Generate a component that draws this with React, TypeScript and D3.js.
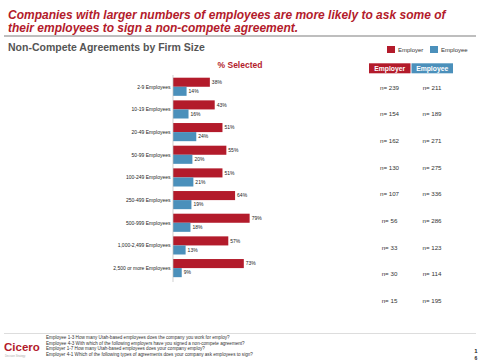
import * as d3 from "d3"

const categories = [
  "2-9 Employees",
  "10-19 Employees",
  "20-49 Employees",
  "50-99 Employees",
  "100-249 Employees",
  "250-499 Employees",
  "500-999 Employees",
  "1,000-2,499 Employees",
  "2,500 or more Employees",
]
const employerPct = [38, 43, 51, 55, 51, 64, 79, 57, 73]
const employeePct = [14, 16, 24, 20, 21, 19, 18, 13, 9]
const employerN = [239, 154, 162, 130, 107, 56, 33, 30, 15]
const employeeN = [211, 189, 271, 275, 336, 286, 123, 114, 195]
const footnotes = [
  "Employee 1-3 How many Utah-based employees does the company you work for employ?",
  "Employee 4-3 With which of the following employers have you signed a non-compete agreement?",
  "Employer 1-7 How many Utah-based employees does your company employ?",
  "Employer 4-1 Which of the following types of agreements does your company ask employees to sign?",
]

const RED = "#b31b2b"
const BLUE = "#4b90bb"
const FONT = "'Liberation Sans', Arial, sans-serif"

export default function App() {
  const width = 480
  const height = 360

  // bar chart scales
  const x = d3.scaleLinear().domain([0, 100]).range([173, 270])
  const y = d3.scaleBand().domain(categories).range([77.7, 281.7]).padding(0)
  const barH = y.step() * 0.4

  // n= table rows (not aligned with bars, as in the original slide)
  const ny = d3.scalePoint().domain(categories).range([89.5, 303])
  const colX = { employer: 389.5, employee: 432 }

  return (
    <svg width={width} height={height} style={{ position: "fixed", left: 0, top: 0, background: "#fff" }} fontFamily={FONT}>
      {/* title */}
      <text x={8} y={18.5} fill={RED} fontSize={12} fontWeight="bold" fontStyle="italic">
        Companies with larger numbers of employees are more likely to ask some of
      </text>
      <text x={8} y={32} fill={RED} fontSize={12} fontWeight="bold" fontStyle="italic">
        their employees to sign a non-compete agreement.
      </text>
      <line x1={4} x2={476} y1={36} y2={36} stroke="#a9a9a9" strokeWidth={1.5} />
      <text x={8} y={51} fill="#555" fontSize={10.5} fontWeight="bold">
        Non-Compete Agreements by Firm Size
      </text>

      {/* legend */}
      <rect x={387} y={46} width={8} height={7} fill={RED} />
      <text x={398} y={52.3} fontSize={6} fill="#333">Employer</text>
      <rect x={430} y={46} width={8} height={7} fill={BLUE} />
      <text x={441} y={52.3} fontSize={6} fill="#333">Employee</text>

      <text x={240} y={67.5} textAnchor="middle" fill={RED} fontSize={8.5} fontWeight="bold">
        % Selected
      </text>

      {/* bars */}
      {categories.map((c, i) => {
        const y0 = y(c) as number
        return (
          <g key={c}>
            <rect x={x(0)} y={y0} width={x(employerPct[i]) - x(0)} height={barH} fill={RED} />
            <rect x={x(0)} y={y0 + barH} width={x(employeePct[i]) - x(0)} height={barH} fill={BLUE} />
            <text x={x(employerPct[i]) + 2} y={y0 + barH / 2 + 1.8} fontSize={5} fill="#222">
              {employerPct[i]}%
            </text>
            <text x={x(employeePct[i]) + 2} y={y0 + barH * 1.5 + 1.8} fontSize={5} fill="#222">
              {employeePct[i]}%
            </text>
            <text x={170.5} y={y0 + barH + 1.8} textAnchor="end" fontSize={5} fill="#222">
              {c}
            </text>
          </g>
        )
      })}
      <line x1={x(0)} x2={x(0)} y1={75} y2={282} stroke="#bbb" strokeWidth={0.7} />

      {/* n= table */}
      <rect x={369} y={63.3} width={41.5} height={10} fill={RED} />
      <rect x={411.5} y={63.3} width={41.5} height={10} fill={BLUE} />
      <text x={389.7} y={70.7} textAnchor="middle" fill="#fff" fontSize={6.8} fontWeight="bold">Employer</text>
      <text x={432.2} y={70.7} textAnchor="middle" fill="#fff" fontSize={6.8} fontWeight="bold">Employee</text>
      {categories.map((c, i) => (
        <g key={"n" + c}>
          <text x={colX.employer} y={ny(c)} textAnchor="middle" fontSize={6.2} fill="#333">
            n= {employerN[i]}
          </text>
          <text x={colX.employee} y={ny(c)} textAnchor="middle" fontSize={6.2} fill="#333">
            n= {employeeN[i]}
          </text>
        </g>
      ))}

      {/* footer */}
      <line x1={4} x2={476} y1={333.5} y2={333.5} stroke="#ddd" strokeWidth={1} />
      <text x={4} y={351} fill={RED} fontSize={11.5} fontWeight="bold">Cicero</text>
      <text x={5} y={356.5} fill="#aaa" fontSize={2.6}>Decision Strategy</text>
      {footnotes.map((f, i) => (
        <text key={f} x={46} y={339 + i * 5.7} fontSize={4.6} fill="#333">
          {f}
        </text>
      ))}
      <text x={476} y={352.5} textAnchor="middle" fontSize={6} fontWeight="bold" fill="#222">1</text>
      <text x={476} y={359.5} textAnchor="middle" fontSize={5} fontWeight="bold" fill="#222">6</text>
    </svg>
  )
}
